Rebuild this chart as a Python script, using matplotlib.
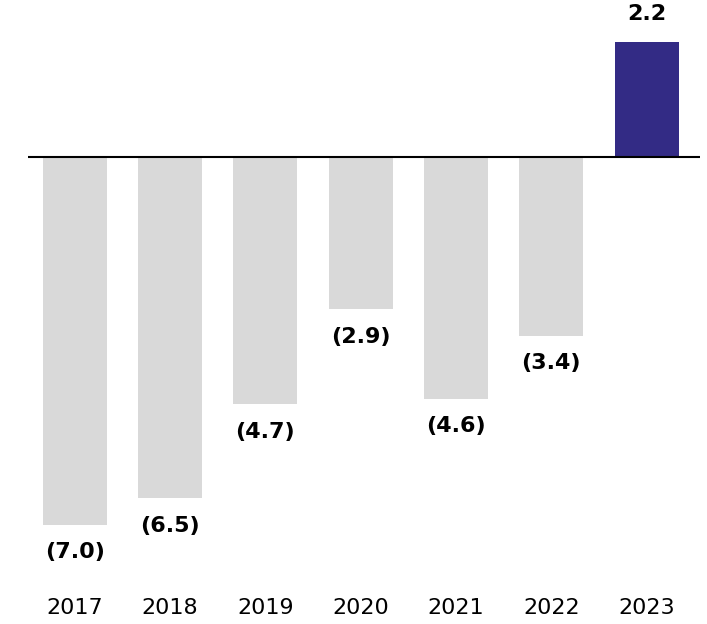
import matplotlib.pyplot as plt

years = ['2017', '2018', '2019', '2020', '2021', '2022', '2023']
values = [-7.0, -6.5, -4.7, -2.9, -4.6, -3.4, 2.2]

fig = plt.figure(figsize=(7.07, 6.24), dpi=100)
# axes spans the zero line horizontally, bottom leaves room for the years
ax = fig.add_axes([28 / 707, 1 - 560 / 624, (700 - 28) / 707, 560 / 624])

colors = ['#d9d9d9' if v < 0 else '#332b85' for v in values]
x = range(len(years))
ax.bar(x, values, width=0.67, color=colors, zorder=1)
ax.axhline(0, color='black', lw=1.5, zorder=2)

for i, v in enumerate(values):
    txt = f'({abs(v):.1f})' if v < 0 else f'{v:.1f}'
    off = -20 if v < 0 else 20
    ax.annotate(txt, (i, v), xytext=(0, off), textcoords='offset points',
                ha='center', va='center', fontsize=16, fontweight='bold')

ax.set_xlim(-0.49, 6.56)
ax.set_ylim(-(560 - 157) / 52.5, 157 / 52.5)
ax.set_xticks(list(x))
ax.set_xticklabels(years, fontsize=16)
ax.tick_params(axis='x', length=0, pad=27)
ax.set_yticks([])
for s in ax.spines.values():
    s.set_visible(False)

fig.savefig('out.png', dpi=100)
